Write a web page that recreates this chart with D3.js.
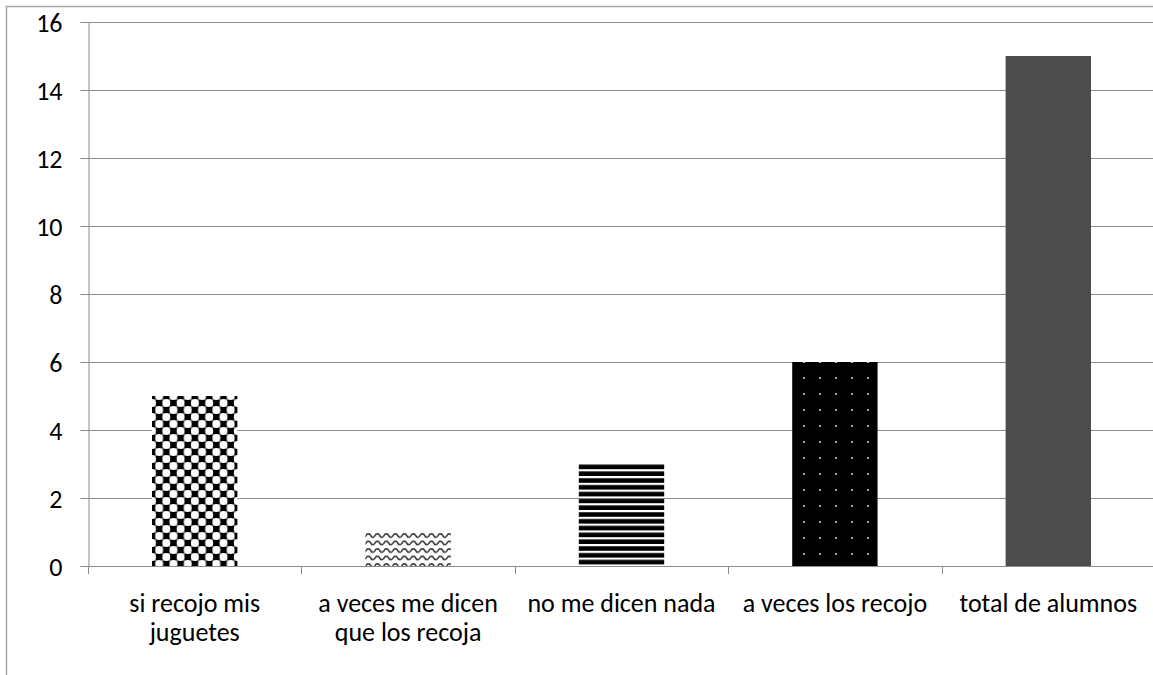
<!DOCTYPE html>
<html>
<head>
<meta charset="utf-8">
<script src="https://cdn.jsdelivr.net/npm/d3@7"></script>
<style>
    body { margin: 0; background: #fff; }
    svg { display: block; }
    text { font-family: Calibri, Carlito, "Open Sans", "Noto Sans", sans-serif; font-size: 26px; fill: #000; }
</style>
</head>
<body>
<div id="chart"></div>
<script>
const categories = [
    ["si recojo mis", "juguetes"],
    ["a veces me dicen", "que los recoja"],
    ["no me dicen nada"],
    ["a veces los recojo"],
    ["total de alumnos"]
];
const values = [5, 1, 3, 6, 15];
const yTicks = [0, 2, 4, 6, 8, 10, 12, 14, 16];
const fills = ["url(#pat-dots)", "url(#pat-wave)", "url(#pat-stripes)", "url(#pat-grid)", "#4d4d4d"];

const width = 1153;
const height = 675;
const margin = { left: 88, top: 22, right: -2, bottom: 109 };

const svg = d3.select("#chart").append("svg")
    .attr("width", width)
    .attr("height", height);

// outer chart border
svg.append("path")
    .attr("d", `M6.5,${height} V6.5 H${width}`)
    .attr("fill", "none")
    .attr("stroke", "#a6a6a6")
    .attr("stroke-width", 1.5);

const defs = svg.append("defs");

// checker of black and white round dots
const p1 = defs.append("pattern").attr("id", "pat-dots")
    .attr("patternUnits", "userSpaceOnUse").attr("width", 14.3).attr("height", 14)
    .attr("x", 152).attr("y", 396);
p1.append("rect").attr("width", 14.3).attr("height", 14).attr("fill", "#777");
[[0, 0], [14.3, 0], [7.15, 7], [0, 14], [14.3, 14]].forEach(([cx, cy]) => {
    p1.append("circle").attr("cx", cx).attr("cy", cy).attr("r", 4.2).attr("fill", "#000");
});
[[7.15, 0], [0, 7], [14.3, 7], [7.15, 14]].forEach(([cx, cy]) => {
    p1.append("circle").attr("cx", cx).attr("cy", cy).attr("r", 4.0).attr("fill", "#fff");
});

// small zigzag waves
const p2 = defs.append("pattern").attr("id", "pat-wave")
    .attr("patternUnits", "userSpaceOnUse").attr("width", 9).attr("height", 7.5)
    .attr("x", 365).attr("y", 532);
p2.append("rect").attr("width", 9).attr("height", 7.5).attr("fill", "#fff");
p2.append("path").attr("d", "M0,5 L2.25,2 L4.5,2 L6.75,5 L9,5")
    .attr("fill", "none").attr("stroke", "#333").attr("stroke-width", 1.5);

// horizontal stripes
const p3 = defs.append("pattern").attr("id", "pat-stripes")
    .attr("patternUnits", "userSpaceOnUse").attr("width", 10).attr("height", 6.8);
p3.append("rect").attr("width", 10).attr("height", 6.8).attr("fill", "#fff");
p3.append("rect").attr("y", 2.2).attr("width", 10).attr("height", 4.6).attr("fill", "#000");

// black with sparse light dots
const p4 = defs.append("pattern").attr("id", "pat-grid")
    .attr("patternUnits", "userSpaceOnUse").attr("width", 16).attr("height", 16)
    .attr("x", 796).attr("y", 361);
p4.append("rect").attr("width", 16).attr("height", 16).attr("fill", "#000");
p4.append("rect").attr("x", 7).attr("y", 0).attr("width", 2).attr("height", 2).attr("fill", "#aaa");

const x = d3.scaleBand()
    .domain(d3.range(categories.length))
    .range([margin.left, width - margin.right])
    .paddingInner(0.6)
    .paddingOuter(0.3);

const bandStep = x.step();
const y = d3.scaleLinear().domain([0, 16]).range([height - margin.bottom, margin.top]);

// gridlines
svg.append("g")
    .selectAll("line")
    .data(yTicks.filter(d => d > 0))
    .join("line")
    .attr("x1", margin.left)
    .attr("x2", width)
    .attr("y1", d => Math.round(y(d)) + 0.5)
    .attr("y2", d => Math.round(y(d)) + 0.5)
    .attr("stroke", "#8c8c8c")
    .attr("stroke-width", 1);

// bars
svg.append("g")
    .selectAll("rect")
    .data(values)
    .join("rect")
    .attr("x", (d, i) => x(i))
    .attr("y", d => y(d))
    .attr("width", x.bandwidth())
    .attr("height", d => y(0) - y(d))
    .attr("fill", (d, i) => fills[i]);

// y axis
const yAxis = svg.append("g")
    .attr("transform", `translate(${margin.left + 0.5},0)`)
    .call(d3.axisLeft(y).tickValues(yTicks).tickSize(8).tickPadding(18));
yAxis.attr("font-size", null).attr("font-family", null);
yAxis.select(".domain").attr("stroke", "#8c8c8c");
yAxis.selectAll(".tick line").attr("stroke", "#8c8c8c");
yAxis.selectAll(".tick text").attr("dy", "0.35em");

// x axis line and boundary ticks
const x0 = y(0);
svg.append("line")
    .attr("x1", margin.left).attr("x2", width)
    .attr("y1", Math.round(x0) + 0.5).attr("y2", Math.round(x0) + 0.5)
    .attr("stroke", "#8c8c8c");
svg.append("g")
    .selectAll("line")
    .data(d3.range(categories.length))
    .join("line")
    .attr("x1", i => Math.round(margin.left + i * bandStep) + 0.5)
    .attr("x2", i => Math.round(margin.left + i * bandStep) + 0.5)
    .attr("y1", x0)
    .attr("y2", x0 + 8)
    .attr("stroke", "#8c8c8c");

// category labels
const labels = svg.append("g")
    .selectAll("text")
    .data(categories)
    .join("text")
    .attr("text-anchor", "middle")
    .attr("x", (d, i) => x(i) + x.bandwidth() / 2)
    .attr("y", 612);
labels.selectAll("tspan")
    .data(d => d)
    .join("tspan")
    .attr("x", function () { return d3.select(this.parentNode).attr("x"); })
    .attr("dy", (d, i) => i === 0 ? 0 : 29)
    .text(d => d);
</script>
</body>
</html>
